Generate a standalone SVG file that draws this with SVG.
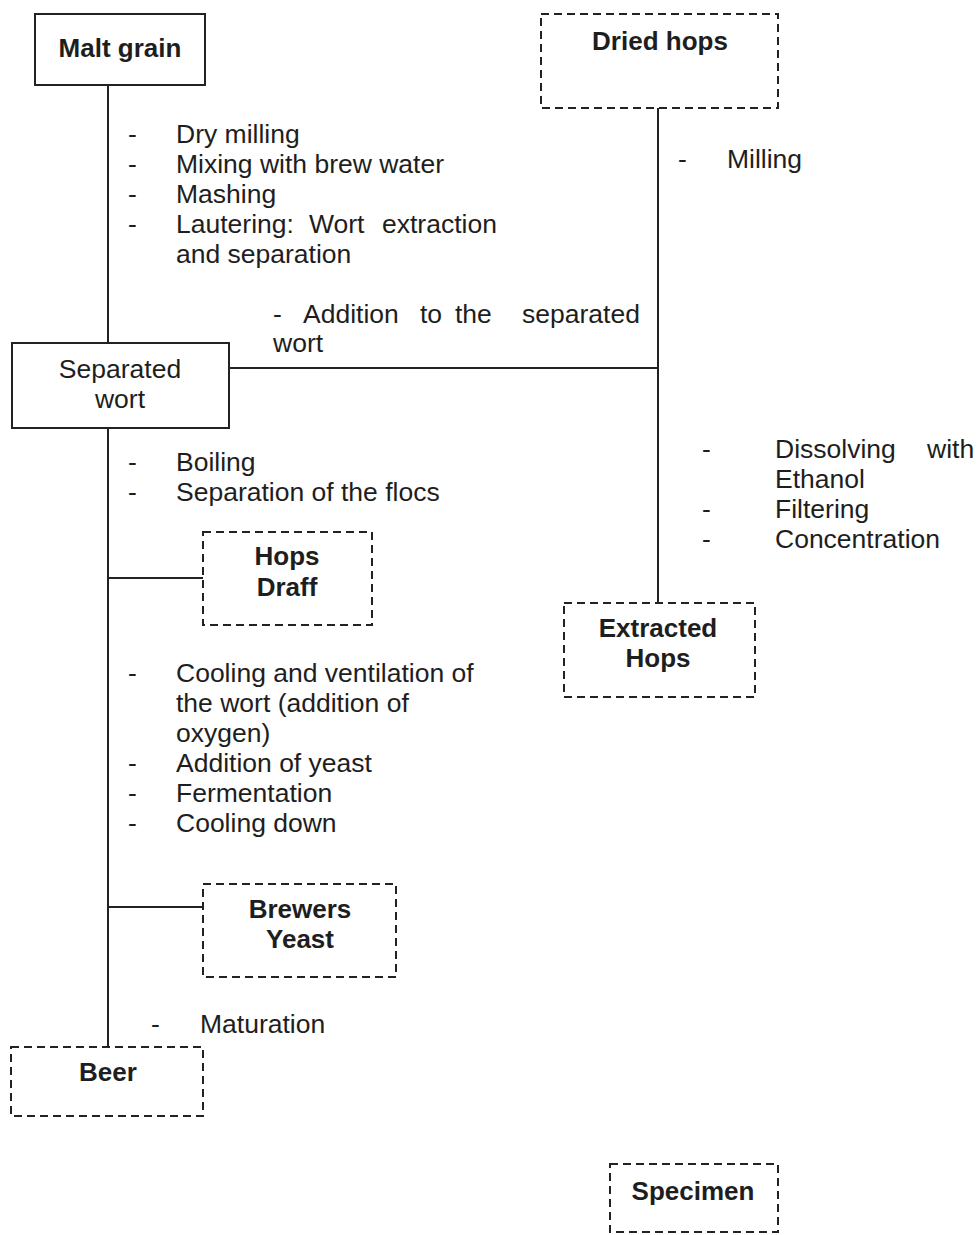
<svg xmlns="http://www.w3.org/2000/svg" width="977" height="1235" viewBox="0 0 977 1235">
<style>
.t{font-family:"Liberation Sans",Arial,sans-serif;font-size:26.5px;fill:#1e1e1e}
.b{font-family:"Liberation Sans",Arial,sans-serif;font-size:26px;font-weight:bold;fill:#1e1e1e;text-anchor:middle}
.c{font-family:"Liberation Sans",Arial,sans-serif;font-size:26.5px;fill:#1e1e1e;text-anchor:middle}
.solid{fill:#fff;stroke:#222;stroke-width:2}
.dash{fill:#fff;stroke:#222;stroke-width:2;stroke-dasharray:8 5}
.ln{stroke:#222;stroke-width:2;fill:none}
</style>
<rect width="977" height="1235" fill="#fff"/>
<g id="connectors">
<line class="ln" x1="108" y1="85" x2="108" y2="343"/>
<line class="ln" x1="108" y1="428" x2="108" y2="1047"/>
<line class="ln" x1="229" y1="368" x2="658" y2="368"/>
<line class="ln" x1="658" y1="108" x2="658" y2="603"/>
<line class="ln" x1="108" y1="578" x2="203" y2="578"/>
<line class="ln" x1="108" y1="907" x2="203" y2="907"/>
</g>
<g id="labels">
<text class="t" x="128" y="143">-</text><text class="t" x="176" y="143">Dry milling</text>
<text class="t" x="128" y="173">-</text><text class="t" x="176" y="173">Mixing with brew water</text>
<text class="t" x="128" y="203">-</text><text class="t" x="176" y="203">Mashing</text>
<text class="t" x="128" y="233">-</text><text class="t" y="233"><tspan x="176">Lautering:</tspan><tspan x="309">Wort</tspan><tspan x="382">extraction</tspan></text>
<text class="t" x="176" y="263">and separation</text>
<text class="t" y="323"><tspan x="273">-</tspan><tspan x="303">Addition</tspan><tspan x="420">to</tspan><tspan x="455">the</tspan><tspan x="522">separated</tspan></text>
<text class="t" x="273" y="352">wort</text>
<text class="t" x="678" y="168">-</text><text class="t" x="727" y="168">Milling</text>
<text class="t" x="702" y="458">-</text><text class="t" y="458"><tspan x="775">Dissolving</tspan><tspan x="927">with</tspan></text>
<text class="t" x="775" y="488">Ethanol</text>
<text class="t" x="702" y="518">-</text><text class="t" x="775" y="518">Filtering</text>
<text class="t" x="702" y="548">-</text><text class="t" x="775" y="548">Concentration</text>
<text class="t" x="128" y="471">-</text><text class="t" x="176" y="471">Boiling</text>
<text class="t" x="128" y="501">-</text><text class="t" x="176" y="501">Separation of the flocs</text>
<text class="t" x="128" y="682">-</text><text class="t" x="176" y="682">Cooling and ventilation of</text>
<text class="t" x="176" y="712">the wort (addition of</text>
<text class="t" x="176" y="742">oxygen)</text>
<text class="t" x="128" y="772">-</text><text class="t" x="176" y="772">Addition of yeast</text>
<text class="t" x="128" y="802">-</text><text class="t" x="176" y="802">Fermentation</text>
<text class="t" x="128" y="832">-</text><text class="t" x="176" y="832">Cooling down</text>
<text class="t" x="151" y="1033">-</text><text class="t" x="200" y="1033">Maturation</text>
</g>
<g id="malt-grain">
<rect class="solid" x="35" y="14" width="170" height="71"/>
<text class="b" x="120" y="57">Malt grain</text>
</g>
<g id="dried-hops">
<rect class="dash" x="541" y="14" width="237" height="94"/>
<text class="b" x="660" y="50">Dried hops</text>
</g>
<g id="separated-wort">
<rect class="solid" x="12" y="343" width="217" height="85"/>
<text class="c" x="120" y="378">Separated</text>
<text class="c" x="120" y="408">wort</text>
</g>
<g id="hops-draff">
<rect class="dash" x="203" y="532" width="169" height="93"/>
<text class="b" x="287" y="565">Hops</text>
<text class="b" x="287" y="596">Draff</text>
</g>
<g id="extracted-hops">
<rect class="dash" x="564" y="603" width="191" height="94"/>
<text class="b" x="658" y="637">Extracted</text>
<text class="b" x="658" y="667">Hops</text>
</g>
<g id="brewers-yeast">
<rect class="dash" x="203" y="884" width="193" height="93"/>
<text class="b" x="300" y="918">Brewers</text>
<text class="b" x="300" y="948">Yeast</text>
</g>
<g id="beer">
<rect class="dash" x="11" y="1047" width="192" height="69"/>
<text class="b" x="108" y="1081">Beer</text>
</g>
<g id="specimen">
<rect class="dash" x="610" y="1164" width="168" height="68"/>
<text class="b" x="693" y="1200">Specimen</text>
</g>
</svg>
